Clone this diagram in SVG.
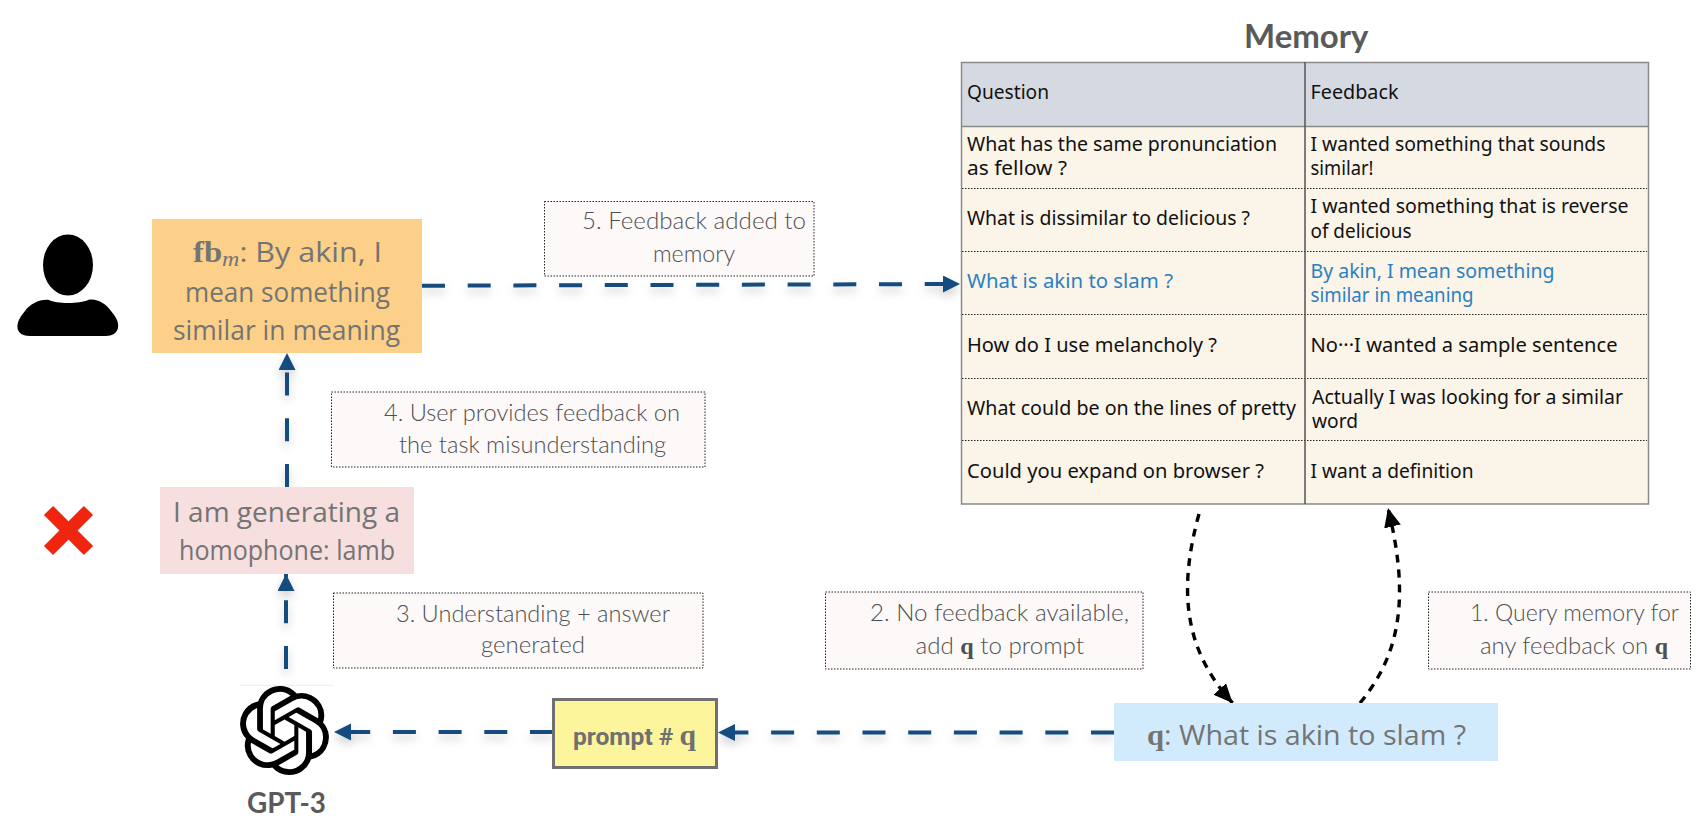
<svg xmlns="http://www.w3.org/2000/svg" width="1704" height="840" viewBox="0 0 1704 840">
<style>
.hand{font-family:"Open Sans","Noto Sans",sans-serif;font-size:28px;font-weight:500;fill:#747474}
.lab{font-family:"Lato","Open Sans",sans-serif;font-size:23px;font-weight:300;fill:#4f4f4f}
.labbox{fill:#fdf9f9;stroke:#222;stroke-width:1;stroke-dasharray:1.5 1.5}
.cell{font-family:"Noto Sans","Open Sans",sans-serif;font-size:20px;fill:#111}
.blue{fill:#2b80c1}
.title{font-family:"Lato","Open Sans",sans-serif;font-weight:700;fill:#5a5a5a}
.serifb{font-family:"Liberation Serif",serif;font-weight:700}
.row{stroke:#222;stroke-width:1;stroke-dasharray:1.5 1.5;fill:none}
.flow{fill:none;stroke:#144c7f;stroke-width:4;stroke-dasharray:23 22.7}
.fetch{fill:none;stroke:#000;stroke-width:3.4;stroke-dasharray:8 7}
</style>
<defs>
<filter id="soft" x="-20%" y="-20%" width="140%" height="140%" filterUnits="objectBoundingBox"><feDropShadow dx="0" dy="5" stdDeviation="5" flood-color="#000" flood-opacity="0.2"/></filter>
<marker id="headBlue" markerUnits="userSpaceOnUse" markerWidth="18" markerHeight="18" refX="17" refY="8.5" orient="auto"><path d="M0 0L17 8.5L0 17Z" fill="#144c7f"/></marker>
<marker id="headBlack" markerUnits="userSpaceOnUse" markerWidth="20" markerHeight="18" refX="19" refY="8.5" orient="auto"><path d="M0 0L19 8.5L0 17Z" fill="#000"/></marker>
</defs>
<rect width="1704" height="840" fill="#fff"/>

<g id="connectors">
<g filter="url(#soft)">
<path class="flow" d="M422 285.7L960 284" marker-end="url(#headBlue)"/>
<path class="flow" d="M287 487V353" marker-end="url(#headBlue)"/>
<path class="flow" d="M286 669V574" marker-end="url(#headBlue)"/>
<path class="flow" d="M553 732H334" marker-end="url(#headBlue)"/>
<path class="flow" d="M1114 732.5H718" marker-end="url(#headBlue)"/>
</g>
<path class="fetch" d="M1199 514C1178 590 1184 650 1232.6 703" marker-end="url(#headBlack)"/>
<path class="fetch" d="M1360 703C1404 650 1408 590 1388 508" marker-end="url(#headBlack)"/>
</g>

<g id="user-icon">
<ellipse cx="68" cy="265" rx="25" ry="30.5" fill="#000"/>
<path d="M49 300C56 304 80 304 88 300C97 298 106 304 111 311C116 317 119 322 118 328C117 333 112 336 106 336H30C23 336 18 333 17.500 328C17 322 20 317 25 311C30 304 40 299 49 300Z" fill="#000"/>
</g>
<g id="wrong-mark"><path d="M48.500 510.500L88.500 550.500M88.500 510.500L48.500 550.500" stroke="#ef2510" stroke-width="13" fill="none"/></g>

<g id="feedback-node">
<rect x="152" y="219" width="270" height="134" fill="#fcd088"/>
<text class="hand" x="193" y="262" textLength="189" lengthAdjust="spacingAndGlyphs"><tspan class="serifb" font-size="30">fb</tspan><tspan font-family="Liberation Serif" font-style="italic" font-weight="400" font-size="22" dy="4">m</tspan><tspan dy="-4">: By akin, I</tspan></text>
<text class="hand" x="185" y="302" textLength="205" lengthAdjust="spacingAndGlyphs">mean something</text>
<text class="hand" x="173" y="340" textLength="227" lengthAdjust="spacingAndGlyphs">similar in meaning</text>
</g>

<g id="understanding-node">
<rect x="160" y="487" width="254" height="87" fill="#f6dfde"/>
<text class="hand" x="173" y="522" textLength="227" lengthAdjust="spacingAndGlyphs">I am generating a</text>
<text class="hand" x="179" y="560" textLength="216" lengthAdjust="spacingAndGlyphs">homophone: lamb</text>
</g>

<g id="gpt3-node">
<path d="M240 685.300H334" stroke="#eee" stroke-width="1"/>
<path transform="translate(239.500 686) scale(3.75 3.71)" fill="#000" d="M22.2819 9.8211a5.9847 5.9847 0 0 0-.5157-4.9108 6.0462 6.0462 0 0 0-6.5098-2.9A6.0651 6.0651 0 0 0 4.9807 4.1818a5.9847 5.9847 0 0 0-3.9977 2.9 6.0462 6.0462 0 0 0 .7427 7.0966 5.98 5.98 0 0 0 .511 4.9107 6.051 6.051 0 0 0 6.5146 2.9001A5.9847 5.9847 0 0 0 13.2599 24a6.0557 6.0557 0 0 0 5.7718-4.2058 5.9894 5.9894 0 0 0 3.9977-2.9001 6.0557 6.0557 0 0 0-.7475-7.0729zm-9.022 12.6081a4.4755 4.4755 0 0 1-2.8764-1.0408l.1419-.0804 4.7783-2.7582a.7948.7948 0 0 0 .3927-.6813v-6.7369l2.02 1.1686a.071.071 0 0 1 .038.052v5.5826a4.504 4.504 0 0 1-4.4945 4.4944zm-9.6607-4.1254a4.4708 4.4708 0 0 1-.5346-3.0137l.142.0852 4.783 2.7582a.7712.7712 0 0 0 .7806 0l5.8428-3.3685v2.3324a.0804.0804 0 0 1-.0332.0615L9.74 19.9502a4.4992 4.4992 0 0 1-6.1408-1.6464zM2.3408 7.8956a4.485 4.485 0 0 1 2.3655-1.9728V11.6a.7664.7664 0 0 0 .3879.6765l5.8144 3.3543-2.0201 1.1685a.0757.0757 0 0 1-.071 0l-4.8303-2.7865A4.504 4.504 0 0 1 2.3408 7.872zm16.5963 3.8558L13.1038 8.364 15.1192 7.2a.0757.0757 0 0 1 .071 0l4.8303 2.7913a4.4944 4.4944 0 0 1-.6765 8.1042v-5.6772a.79.79 0 0 0-.407-.667zm2.0107-3.0231l-.142-.0852-4.7735-2.7818a.7759.7759 0 0 0-.7854 0L9.409 9.2297V6.8974a.0662.0662 0 0 1 .0284-.0615l4.8303-2.7866a4.4992 4.4992 0 0 1 6.6802 4.66zM8.3065 12.863l-2.02-1.1638a.0804.0804 0 0 1-.038-.0567V6.0742a4.4992 4.4992 0 0 1 7.3757-3.4537l-.142.0805L8.704 5.459a.7948.7948 0 0 0-.3927.6813zm1.0976-2.3654l2.602-1.4998 2.6069 1.4998v2.9994l-2.5974 1.4997-2.6067-1.4997Z"/>
<text class="title" x="247" y="813" font-size="29" textLength="79" lengthAdjust="spacingAndGlyphs">GPT-3</text>
</g>

<g id="prompt-node">
<rect x="553.500" y="699.500" width="163" height="68" fill="#fdf59c" stroke="#707070" stroke-width="3"/>
<text x="573" y="745" font-family="Roboto,'Liberation Sans',sans-serif" font-weight="700" font-size="24" fill="#707070" textLength="123" lengthAdjust="spacingAndGlyphs">prompt # <tspan class="serifb" font-size="29">q</tspan></text>
</g>

<g id="query-node">
<rect x="1114" y="703" width="384" height="58" fill="#d1ebfd"/>
<text class="hand" x="1147" y="745" textLength="319" lengthAdjust="spacingAndGlyphs"><tspan class="serifb" font-size="30">q</tspan>: What is akin to slam ?</text>
</g>

<g id="label-1"><rect class="labbox" x="1428.500" y="592" width="262" height="77"/>
<text class="lab" x="1470" y="621" textLength="209" lengthAdjust="spacingAndGlyphs">1. Query memory for</text>
<text class="lab" x="1480" y="654" textLength="188" lengthAdjust="spacingAndGlyphs">any feedback on <tspan class="serifb">q</tspan></text></g>
<g id="label-2"><rect class="labbox" x="825.500" y="592" width="317.500" height="77"/>
<text class="lab" x="870" y="621" textLength="259" lengthAdjust="spacingAndGlyphs">2. No feedback available,</text>
<text class="lab" x="915.500" y="654" textLength="168.500" lengthAdjust="spacingAndGlyphs">add <tspan class="serifb">q</tspan> to prompt</text></g>
<g id="label-3"><rect class="labbox" x="333.500" y="593" width="369.500" height="75"/>
<text class="lab" x="396" y="622" textLength="274" lengthAdjust="spacingAndGlyphs">3. Understanding + answer</text>
<text class="lab" x="481" y="653" textLength="104" lengthAdjust="spacingAndGlyphs">generated</text></g>
<g id="label-4"><rect class="labbox" x="331.500" y="392" width="373.500" height="75"/>
<text class="lab" x="384" y="421" textLength="296" lengthAdjust="spacingAndGlyphs">4. User provides feedback on</text>
<text class="lab" x="399" y="453" textLength="267" lengthAdjust="spacingAndGlyphs">the task misunderstanding</text></g>
<g id="label-5"><rect class="labbox" x="544.500" y="201.500" width="269.500" height="74.500"/>
<text class="lab" x="582" y="229" textLength="224" lengthAdjust="spacingAndGlyphs">5. Feedback added to</text>
<text class="lab" x="653" y="262" textLength="82" lengthAdjust="spacingAndGlyphs">memory</text></g>

<g id="memory-table">
<text class="title" x="1244" y="48" font-size="32" textLength="124.500" lengthAdjust="spacingAndGlyphs">Memory</text>
<rect x="961.500" y="62.500" width="687" height="64" fill="#d5dae2"/>
<rect x="961.500" y="126.500" width="687" height="377.500" fill="#faf4e9"/>
<rect x="961.500" y="62.500" width="687" height="441.500" fill="none" stroke="#8a8a8a" stroke-width="1.500"/>
<path d="M962 126.500H1648" stroke="#8a8a8a" stroke-width="1.500"/>
<path class="row" d="M962 188.500H1647M962 251.500H1647M962 314.500H1647M962 378.500H1647M962 440.500H1647"/>
<path d="M1305 62V504" stroke="#555" stroke-width="1.500"/>
<text class="cell" x="967" y="99" textLength="82" lengthAdjust="spacingAndGlyphs">Question</text>
<text class="cell" x="1310.500" y="99" textLength="88" lengthAdjust="spacingAndGlyphs">Feedback</text>
<text class="cell" x="967" y="150.500" textLength="310" lengthAdjust="spacingAndGlyphs">What has the same pronunciation</text>
<text class="cell" x="967" y="174.500" textLength="100" lengthAdjust="spacingAndGlyphs">as fellow ?</text>
<text class="cell" x="1310.500" y="150.500" textLength="295" lengthAdjust="spacingAndGlyphs">I wanted something that sounds</text>
<text class="cell" x="1310.500" y="174.500" textLength="63" lengthAdjust="spacingAndGlyphs">similar!</text>
<text class="cell" x="967" y="225" textLength="283" lengthAdjust="spacingAndGlyphs">What is dissimilar to delicious ?</text>
<text class="cell" x="1310.500" y="213" textLength="318" lengthAdjust="spacingAndGlyphs">I wanted something that is reverse</text>
<text class="cell" x="1310.500" y="238" textLength="101" lengthAdjust="spacingAndGlyphs">of delicious</text>
<text class="cell blue" x="967" y="288" textLength="206" lengthAdjust="spacingAndGlyphs">What is akin to slam ?</text>
<text class="cell blue" x="1310.500" y="278" textLength="244" lengthAdjust="spacingAndGlyphs">By akin, I mean something</text>
<text class="cell blue" x="1310.500" y="302" textLength="163" lengthAdjust="spacingAndGlyphs">similar in meaning</text>
<text class="cell" x="967" y="352" textLength="250" lengthAdjust="spacingAndGlyphs">How do I use melancholy ?</text>
<text class="cell" x="1310.500" y="352" textLength="307" lengthAdjust="spacingAndGlyphs">No···I wanted a sample sentence</text>
<text class="cell" x="967" y="415" textLength="329" lengthAdjust="spacingAndGlyphs">What could be on the lines of pretty</text>
<text class="cell" x="1312" y="404" textLength="311" lengthAdjust="spacingAndGlyphs">Actually I was looking for a similar</text>
<text class="cell" x="1312" y="428" textLength="46" lengthAdjust="spacingAndGlyphs">word</text>
<text class="cell" x="967" y="478" textLength="297" lengthAdjust="spacingAndGlyphs">Could you expand on browser ?</text>
<text class="cell" x="1310.500" y="478" textLength="163" lengthAdjust="spacingAndGlyphs">I want a definition</text>
</g>
</svg>
